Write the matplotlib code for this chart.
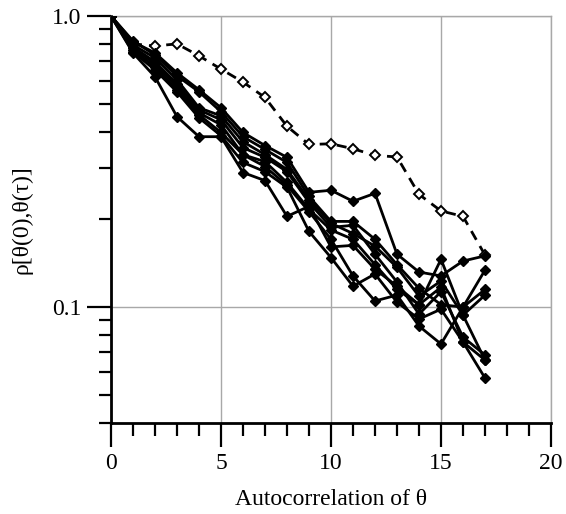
import matplotlib
matplotlib.use("Agg")
import matplotlib.pyplot as plt
from matplotlib.ticker import LogLocator, NullFormatter, FixedLocator, FixedFormatter, MultipleLocator

lags = list(range(18))

s1 = [1.0, 0.815, 0.747, 0.638, 0.558, 0.484, 0.398, 0.359, 0.327, 0.248, 0.252, 0.231, 0.246, 0.152, 0.132, 0.128, 0.144, 0.150]
s2 = [1.0, 0.821, 0.735, 0.623, 0.549, 0.469, 0.385, 0.348, 0.314, 0.240, 0.197, 0.197, 0.171, 0.140, 0.116, 0.102, 0.100, 0.134]
s3 = [1.0, 0.796, 0.718, 0.604, 0.484, 0.454, 0.370, 0.334, 0.297, 0.234, 0.194, 0.179, 0.162, 0.137, 0.109, 0.123, 0.0939, 0.110]
s4 = [1.0, 0.783, 0.696, 0.585, 0.476, 0.440, 0.353, 0.327, 0.292, 0.229, 0.188, 0.191, 0.152, 0.122, 0.0946, 0.113, 0.0789, 0.0685]
s5 = [1.0, 0.777, 0.685, 0.571, 0.465, 0.423, 0.334, 0.316, 0.268, 0.217, 0.184, 0.171, 0.140, 0.115, 0.102, 0.146, 0.0939, 0.0658]
s6 = [1.0, 0.765, 0.669, 0.558, 0.458, 0.398, 0.334, 0.304, 0.262, 0.213, 0.171, 0.128, 0.105, 0.110, 0.0861, 0.0747, 0.100, 0.115]
s7 = [1.0, 0.753, 0.653, 0.549, 0.447, 0.388, 0.314, 0.292, 0.258, 0.182, 0.148, 0.118, 0.130, 0.104, 0.0910, 0.0984, 0.0759, 0.0571]
s8 = [1.0, 0.747, 0.618, 0.451, 0.385, 0.385, 0.290, 0.272, 0.205, 0.222, 0.161, 0.163, 0.135, 0.118, 0.102, 0.117, 0.0759, 0.0658]
dashed = [1.0, 0.802, 0.789, 0.802, 0.730, 0.657, 0.593, 0.525, 0.418, 0.362, 0.364, 0.350, 0.332, 0.328, 0.244, 0.214, 0.205, 0.151]

solid_series = [s1, s2, s3, s4, s5, s6, s7, s8]

xticks = [0, 5, 10, 15, 20]
xticklabels = ["0", "5", "10", "15", "20"]
yticks = [0.1, 1.0]
yticklabels = ["0.1", "1.0"]

plt.rcParams['font.family'] = ['Liberation Serif', 'DejaVu Serif']

fig = plt.figure(figsize=(5.66, 5.14), dpi=100)
ax = fig.add_axes([111/566, 1 - 423/514, (551 - 111)/566, (423 - 16)/514])

ax.plot(lags, dashed, color='black', lw=2.0, dashes=(3.6, 2.6), marker='D',
        markersize=5, markerfacecolor='white', markeredgecolor='black',
        markeredgewidth=1.4, zorder=3)
for s in solid_series:
    ax.plot(lags, s, color='black', lw=2.0, marker='D', markersize=5.5,
            markerfacecolor='black', markeredgecolor='black', zorder=4)

ax.set_yscale('log')
ax.set_xlim(0, 20)
ax.set_ylim(0.04, 1.0)

ax.xaxis.set_major_locator(FixedLocator(xticks))
ax.xaxis.set_major_formatter(FixedFormatter(xticklabels))
ax.xaxis.set_minor_locator(MultipleLocator(1))
ax.yaxis.set_major_locator(FixedLocator(yticks))
ax.yaxis.set_major_formatter(FixedFormatter(yticklabels))
ax.yaxis.set_minor_locator(LogLocator(base=10, subs=[2, 3, 4, 5, 6, 7, 8, 9]))
ax.yaxis.set_minor_formatter(NullFormatter())

ax.tick_params(which='major', direction='out', length=17.5, width=1.6,
               labelsize=17, color='black', pad=4)
ax.tick_params(which='minor', direction='out', length=9, width=1.6, color='black')

ax.grid(True, which='major', color='#a8a8a8', lw=1.0)
ax.set_axisbelow(True)

for side in ['left', 'bottom']:
    ax.spines[side].set_linewidth(2.0)
    ax.spines[side].set_color('black')
for side in ['top', 'right']:
    ax.spines[side].set_linewidth(1.0)
    ax.spines[side].set_color('#a8a8a8')

ax.set_xlabel('Autocorrelation of θ', fontsize=17, labelpad=11)
ax.set_ylabel('ρ[θ(0),θ(τ)]', fontsize=17, labelpad=14)

fig.savefig('out.png', dpi=100)
